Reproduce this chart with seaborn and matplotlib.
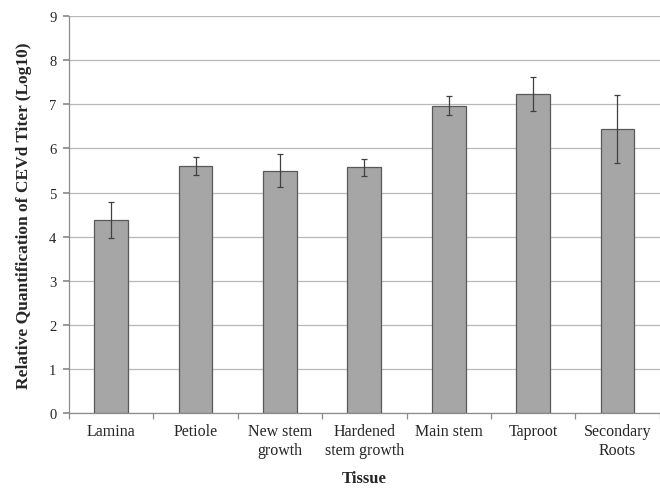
import matplotlib
matplotlib.use("Agg")
import matplotlib.pyplot as plt
from matplotlib.ticker import FixedLocator
import seaborn as sns
import pandas as pd
import numpy as np

tissues = ["Lamina", "Petiole", "New stem\ngrowth", "Hardened\nstem growth",
           "Main stem", "Taproot", "Secondary\nRoots"]
titer = [4.38, 5.60, 5.50, 5.57, 6.97, 7.24, 6.44]
err = [0.40, 0.20, 0.38, 0.20, 0.22, 0.38, 0.77]

sns.set_theme(style="white")
plt.rcParams['font.family'] = ['Liberation Serif', 'DejaVu Serif']

df = pd.DataFrame({"Tissue": tissues, "Titer": titer})

fig = plt.figure(figsize=(6.6, 4.89), dpi=100)
ax = fig.add_axes([0.1045, 0.153, 0.895, 0.812])

sns.barplot(data=df, x="Tissue", y="Titer", ax=ax, color="#a6a6a6",
            saturation=1, width=0.4, edgecolor="#595959", linewidth=0.9,
            errorbar=None, zorder=2)

xs = [p.get_x() + p.get_width() / 2 for p in ax.patches]
ax.errorbar(xs, titer, yerr=err, fmt="none", ecolor="#404040",
            elinewidth=0.9, capsize=2.5, capthick=0.9, zorder=3)

ax.set_ylim(0, 9)
ax.set_xlim(-0.5, len(tissues) - 0.5)
ax.set_yticks(range(0, 10))
ax.yaxis.grid(True, color="#b8b8b8", linewidth=0.9)
ax.set_axisbelow(True)

for s in ["top", "right"]:
    ax.spines[s].set_visible(False)
for s in ["left", "bottom"]:
    ax.spines[s].set_color("#8c8c8c")
    ax.spines[s].set_linewidth(0.9)

ax.tick_params(axis="y", which="major", left=True, length=4, color="#8c8c8c",
               labelsize=10.5, pad=5)
ax.tick_params(axis="x", which="major", bottom=False, length=0,
               labelsize=11.5, pad=7)
for lbl in ax.get_xticklabels():
    lbl.set_linespacing(1.25)
ax.xaxis.set_minor_locator(FixedLocator(np.arange(-0.5, len(tissues), 1.0)))
ax.tick_params(axis="x", which="minor", bottom=True, length=4,
               color="#8c8c8c", width=0.9)

ax.set_xlabel("Tissue", fontsize=12, fontweight="bold", labelpad=9)
ax.set_ylabel("Relative Quantification of CEVd Titer (Log10)", fontsize=12.5,
              fontweight="bold", labelpad=12)

fig.savefig("out.png", dpi=100)
